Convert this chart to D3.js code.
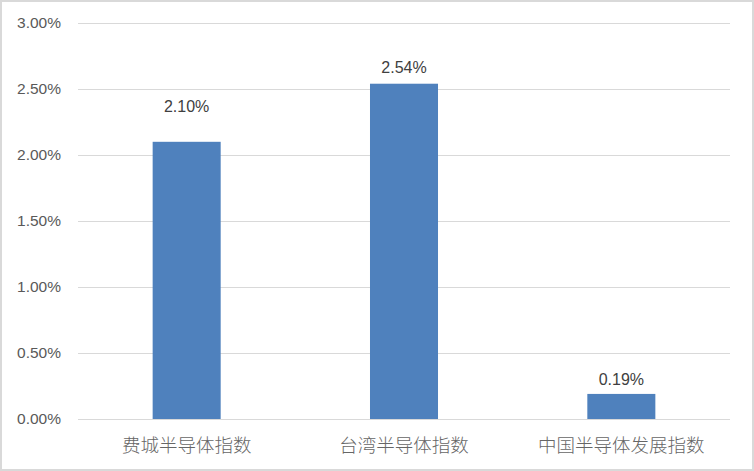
<!DOCTYPE html>
<html><head><meta charset="utf-8">
<script src="https://cdn.jsdelivr.net/npm/d3@7/dist/d3.min.js"></script>
<style>body{margin:0;background:#fff}svg{display:block}</style>
</head><body>
<svg id="c" width="754" height="471"></svg>
<script>
const categories = ["费城半导体指数", "台湾半导体指数", "中国半导体发展指数"];
const values = [0.0210, 0.0254, 0.0019];
const valueLabels = ["2.10%", "2.54%", "0.19%"];
const yTicks = [0, 0.005, 0.01, 0.015, 0.02, 0.025, 0.03];
const labelGaps = [35, 16, 15];

const W = 754, H = 471;
const m = {left: 78, right: 24, top: 23, bottom: 52};
const svg = d3.select("#c");
svg.append("rect").attr("x",1).attr("y",1).attr("width",W-2).attr("height",H-2)
  .attr("fill","#fff").attr("stroke","#d9d9d9").attr("stroke-width",2);

const x = d3.scaleBand().domain(categories).range([m.left, W-m.right]).paddingInner(0.687).paddingOuter(0.3435);
const y = d3.scaleLinear().domain([0, 0.03]).range([H-m.bottom, m.top]);

svg.append("g").selectAll("line").data(yTicks).join("line")
  .attr("x1", m.left).attr("x2", W-m.right)
  .attr("y1", d=>Math.round(y(d))+0.5).attr("y2", d=>Math.round(y(d))+0.5)
  .attr("stroke","#d9d9d9").attr("stroke-width",1);

const yAxis = d3.axisLeft(y).tickValues(yTicks).tickFormat(d3.format(".2%")).tickSize(0).tickPadding(17);
const gy = svg.append("g").attr("transform",`translate(${m.left},0)`).call(yAxis);
gy.select(".domain").remove();
gy.selectAll("text").attr("font-family","'Liberation Sans', Arial, sans-serif").attr("font-size",15.5).attr("fill","#595959");

svg.append("g").selectAll("rect").data(values).join("rect")
  .attr("x",(d,i)=>x(categories[i])).attr("width",x.bandwidth())
  .attr("y",d=>y(d)).attr("height",d=>y(0)-y(d)).attr("fill","#4f81bd");

svg.append("g").selectAll("text").data(values).join("text")
  .attr("x",(d,i)=>x(categories[i])+x.bandwidth()/2)
  .attr("y",(d,i)=>y(d)-labelGaps[i])
  .attr("dy","0.35em").attr("text-anchor","middle")
  .attr("font-family","'Liberation Sans', Arial, sans-serif").attr("font-size",16).attr("fill","#404040")
  .text((d,i)=>valueLabels[i]);

const xAxis = d3.axisBottom(x).tickSize(0).tickPadding(20);
const gx = svg.append("g").attr("transform",`translate(0,${y(0)})`).call(xAxis);
gx.select(".domain").remove();
gx.selectAll("text").attr("font-family","'Noto Sans CJK SC', sans-serif").attr("font-size",18.5).attr("font-weight",300).attr("fill","#666666");
</script>
</body></html>
